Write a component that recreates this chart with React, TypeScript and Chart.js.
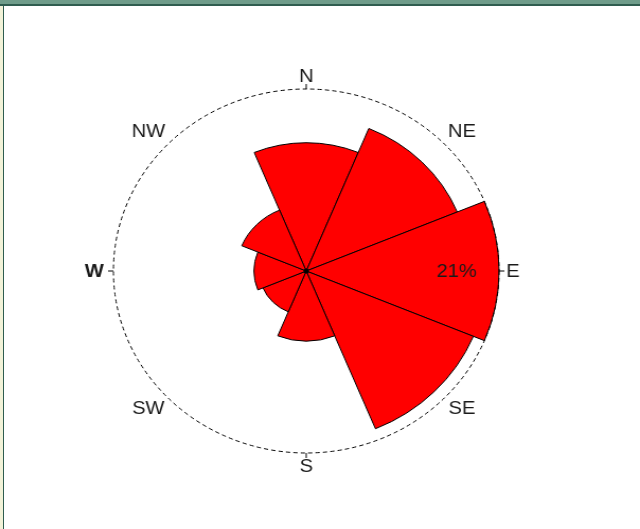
import React, { useEffect, useRef } from "react";
import { Chart, registerables } from "chart.js";

Chart.register(...registerables);

// ---- data ----
const directions = ["N", "NE", "E", "SE", "S", "SW", "W", "NW"];
const frequencies = [14.8, 17.8, 21.0, 19.7, 8.1, 5.1, 5.7, 7.6];
const ringValue = 21;
const ringLabel = "21%";
const labelOffsets = [13, 16, 13, 16, 13, 16, 18, 16];
const labelShiftX = [0, 7, 0, 7, 0, -9, 0, -9];
const labelShiftY = [0, 0, 0, -3, 0, -3, 0, 0];

// ---- layout ----
const W = 640;
const H = 529;
const STRETCH = 193 / 182;
const IW = Math.round(W / STRETCH);
const CX = 289;
const CY = 271;
const R = 182;

const roseDecor = {
  id: "roseDecor",
  afterDatasetsDraw(chart: any) {
    const s = chart.scales.r;
    const ctx = chart.ctx as CanvasRenderingContext2D;
    const cx = s.xCenter;
    const cy = s.yCenter;
    const rr = s.getDistanceFromCenterForValue(ringValue);
    ctx.save();
    // dashed reference ring
    ctx.beginPath();
    ctx.setLineDash([4, 3]);
    ctx.lineWidth = 1;
    ctx.strokeStyle = "#000";
    ctx.arc(cx, cy, rr, 0, Math.PI * 2);
    ctx.stroke();
    ctx.setLineDash([]);
    // small ticks at cardinal points
    for (let i = 0; i < 8; i += 2) {
      const a = (i * Math.PI) / 4;
      const sx = Math.sin(a);
      const sy = -Math.cos(a);
      ctx.beginPath();
      ctx.moveTo(cx + sx * rr, cy + sy * rr);
      ctx.lineTo(cx + sx * (rr + 5), cy + sy * (rr + 5));
      ctx.stroke();
    }
    // direction labels
    ctx.fillStyle = "#1a1a1a";
    ctx.textAlign = "center";
    ctx.textBaseline = "middle";
    directions.forEach((d, i) => {
      ctx.font = (d === "W" ? "bold " : "") + "19px 'Liberation Sans', Arial, sans-serif";
      const a = (i * Math.PI) / 4;
      const r = rr + labelOffsets[i];
      ctx.fillText(d, cx + r * Math.sin(a) + labelShiftX[i], cy - r * Math.cos(a) + 1 + labelShiftY[i]);
    });
    // ring value label
    ctx.font = "19px 'Liberation Sans', Arial, sans-serif";
    ctx.fillText(ringLabel, cx + rr - 40, cy + 1);
    // center dot
    ctx.beginPath();
    ctx.arc(cx, cy, 2.5, 0, Math.PI * 2);
    ctx.fillStyle = "#000";
    ctx.fill();
    ctx.restore();
  },
};

export default function App() {
  const ref = useRef<HTMLCanvasElement>(null);

  useEffect(() => {
    document.body.style.margin = "0";
    const canvas = ref.current;
    if (!canvas) return;
    const chart = new Chart(canvas, {
      type: "polarArea",
      data: {
        labels: directions,
        datasets: [
          {
            data: frequencies,
            backgroundColor: "#ff0000",
            borderColor: "#000000",
            borderWidth: 1,
          },
        ],
      },
      options: {
        responsive: false,
        animation: false,
        devicePixelRatio: 1,
        layout: {
          padding: {
            left: CX - R,
            top: CY - R,
            right: IW - CX - R,
            bottom: H - CY - R,
          },
        },
        scales: {
          r: {
            display: false,
            min: 0,
            max: ringValue,
            startAngle: -22.5,
          },
        },
        plugins: {
          legend: { display: false },
          tooltip: { enabled: false },
        },
      },
      plugins: [roseDecor],
    } as any);
    return () => chart.destroy();
  }, []);

  return (
    <div
      style={{
        position: "fixed",
        left: 0,
        top: 0,
        width: W,
        height: H,
        background: "#ffffff",
        overflow: "hidden",
      }}
    >
      <canvas
        ref={ref}
        width={IW}
        height={H}
        style={{ position: "absolute", left: 0, top: 0, width: W + "px", height: H + "px" }}
      />
      <div style={{ position: "absolute", left: 0, top: 0, width: W, height: 4, background: "#6f9c8a" }} />
      <div style={{ position: "absolute", left: 0, top: 4, width: W, height: 2, background: "#2f5d4f" }} />
      <div style={{ position: "absolute", left: 0, top: 6, width: 3, height: H - 6, background: "#f2f2d8" }} />
      <div style={{ position: "absolute", left: 3, top: 5, width: 1, height: H - 5, background: "#2f5d4f" }} />
    </div>
  );
}
